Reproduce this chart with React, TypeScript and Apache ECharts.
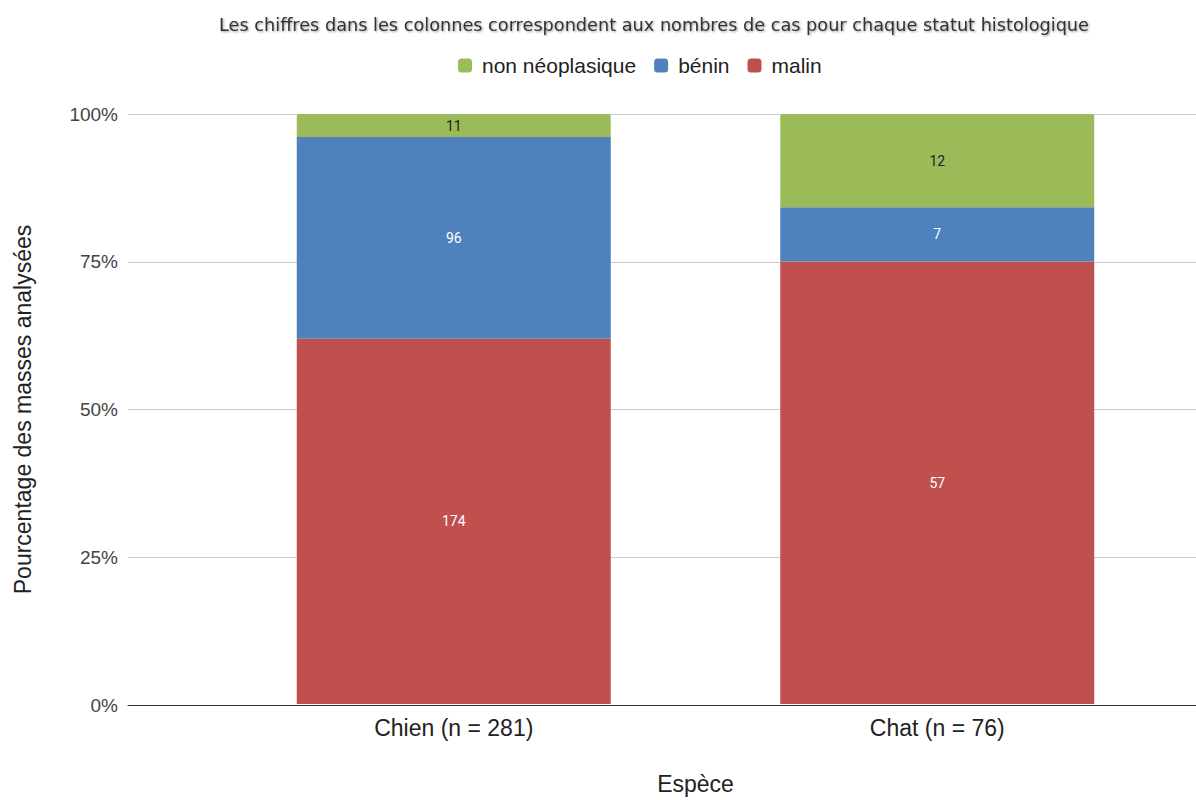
import React, { useEffect, useRef } from "react";
import * as echarts from "echarts";

const categories = ["Chien (n = 281)", "Chat (n = 76)"];
const malinCounts = [174, 57];
const beninCounts = [96, 7];
const nonNeoCounts = [11, 12];
const yTicks = [0, 25, 50, 75, 100];

const totals = categories.map((_, i) => malinCounts[i] + beninCounts[i] + nonNeoCounts[i]);
const pct = (arr: number[]) => arr.map((v, i) => ({ value: (v / totals[i]) * 100, count: v }));

export default function App() {
  const ref = useRef<HTMLDivElement>(null);
  useEffect(() => {
    document.body.style.margin = "0";
    const chart = echarts.init(ref.current!, null, { renderer: "svg" });
    const labelBase = {
      show: true,
      position: "inside",
      fontFamily: "Roboto",
      fontSize: 14,
      formatter: (p: any) => String(p.data.count),
    };
    chart.setOption({
      animation: false,
      backgroundColor: "#ffffff",
      title: {
        text: "Les chiffres dans les colonnes correspondent aux nombres de cas pour chaque statut histologique",
        left: 649,
        textAlign: "center",
        top: 11,
        textStyle: {
          fontFamily: "DejaVu Sans",
          fontSize: 17.7,
          fontWeight: "normal",
          color: "#333333",
          textShadowColor: "rgba(0,0,0,0.4)",
          textShadowBlur: 2,
          textShadowOffsetX: 1,
          textShadowOffsetY: 1,
        },
      },
      legend: {
        data: ["non néoplasique", "bénin", "malin"],
        left: 453,
        top: 50,
        orient: "horizontal",
        icon: "roundRect",
        itemWidth: 14,
        itemHeight: 14,
        itemGap: 18,
        textStyle: { fontFamily: "Liberation Sans", fontSize: 21, color: "#222222", padding: [0, 0, 0, 5] },
      },
      grid: [
        { left: 128, right: 0, top: 114, bottom: 95 },
        { left: 212, right: 17, top: 114, bottom: 95 },
      ],
      xAxis: [
        {
          gridIndex: 0,
          type: "category",
          data: categories,
          axisLine: { show: true, lineStyle: { color: "#333333", width: 1 } },
          axisTick: { show: false },
          axisLabel: { show: false },
        },
        {
          gridIndex: 1,
          type: "category",
          data: categories,
          axisLine: { show: false },
          axisTick: { show: false },
          axisLabel: { fontFamily: "Liberation Sans", fontSize: 23, color: "#222222", margin: 12 },
          name: "Espèce",
          nameLocation: "middle",
          nameGap: 68,
          nameTextStyle: { fontFamily: "Liberation Sans", fontSize: 23, color: "#222222" },
        },
      ],
      yAxis: [
        {
          gridIndex: 0,
          type: "value",
          min: yTicks[0],
          max: yTicks[yTicks.length - 1],
          interval: 25,
          axisLabel: {
            formatter: "{value}%",
            fontFamily: "Liberation Sans",
            fontSize: 19,
            color: "#444444",
            margin: 10,
          },
          axisLine: { show: false },
          axisTick: { show: false },
          splitLine: { lineStyle: { color: "#cccccc", width: 1 } },
          name: "Pourcentage des masses analysées",
          nameLocation: "middle",
          nameGap: 94,
          nameTextStyle: { fontFamily: "Liberation Sans", fontSize: 23, color: "#222222" },
        },
        {
          gridIndex: 1,
          type: "value",
          min: 0,
          max: 100,
          interval: 25,
          show: false,
          splitLine: { show: false },
        },
      ],
      series: [
        {
          name: "malin",
          type: "bar",
          stack: "total",
          xAxisIndex: 1,
          yAxisIndex: 1,
          barWidth: 314,
          data: pct(malinCounts),
          itemStyle: { color: "#C0504D" },
          label: { ...labelBase, color: "#ffffff" },
        },
        {
          name: "bénin",
          type: "bar",
          stack: "total",
          xAxisIndex: 1,
          yAxisIndex: 1,
          barWidth: 314,
          data: pct(beninCounts),
          itemStyle: { color: "#4F81BD" },
          label: { ...labelBase, color: "#ffffff" },
        },
        {
          name: "non néoplasique",
          type: "bar",
          stack: "total",
          xAxisIndex: 1,
          yAxisIndex: 1,
          barWidth: 314,
          data: pct(nonNeoCounts),
          itemStyle: { color: "#9BBB59", borderRadius: [2, 2, 0, 0] },
          label: { ...labelBase, color: "#222222" },
        },
      ],
    });
    return () => chart.dispose();
  }, []);
  return <div ref={ref} style={{ width: 1196, height: 800 }} />;
}
